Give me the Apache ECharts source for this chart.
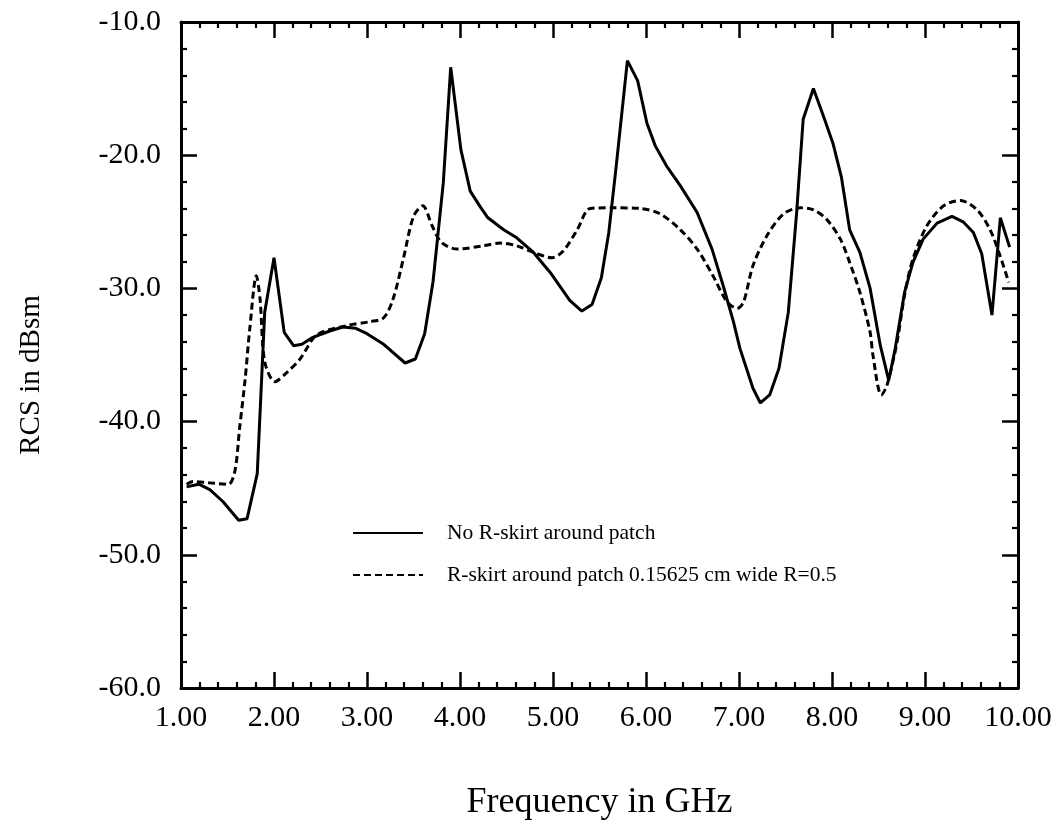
<!DOCTYPE html>
<html>
<head>
<meta charset="utf-8">
<script src="https://cdn.jsdelivr.net/npm/echarts@6/dist/echarts.min.js"></script>
<style>
html,body{margin:0;padding:0;background:#fff;}
#chart{width:1061px;height:826px;}
</style>
</head>
<body>
<div id="chart"></div>
<script>
var xTickLabels = ['1.00','2.00','3.00','4.00','5.00','6.00','7.00','8.00','9.00','10.00'];
var yTickLabels = ['-60.0','-50.0','-40.0','-30.0','-20.0','-10.0'];

var solidName = 'No R-skirt around patch';
var dashName = 'R-skirt around patch 0.15625 cm wide R=0.5';

var solidX = [1.06,1.19,1.31,1.45,1.62,1.71,1.82,1.90,2.00,2.11,2.21,2.30,2.41,2.60,2.74,2.88,3.00,3.17,3.41,3.52,3.62,3.71,3.82,3.90,4.01,4.11,4.22,4.30,4.47,4.61,4.79,4.97,5.18,5.31,5.42,5.52,5.60,5.68,5.80,5.91,6.01,6.10,6.22,6.37,6.55,6.71,6.83,6.94,7.01,7.15,7.23,7.33,7.43,7.53,7.62,7.69,7.80,7.92,8.01,8.10,8.19,8.30,8.41,8.52,8.61,8.68,8.78,8.87,8.98,9.13,9.29,9.41,9.52,9.61,9.72,9.81,9.91];
var solidY = [-44.9,-44.7,-45.1,-46.0,-47.4,-47.3,-43.9,-31.8,-27.7,-33.3,-34.3,-34.2,-33.7,-33.2,-32.9,-33.0,-33.4,-34.15,-35.6,-35.3,-33.4,-29.5,-22.1,-13.4,-19.6,-22.7,-23.9,-24.7,-25.6,-26.2,-27.3,-28.8,-30.9,-31.7,-31.2,-29.2,-25.8,-20.8,-12.9,-14.4,-17.6,-19.3,-20.8,-22.3,-24.3,-27.05,-29.8,-32.5,-34.5,-37.5,-38.6,-38.0,-36.0,-31.8,-24.3,-17.3,-15.0,-17.3,-19.1,-21.6,-25.6,-27.3,-30.0,-34.3,-36.9,-34.5,-30.3,-28.05,-26.3,-25.1,-24.6,-25.0,-25.8,-27.4,-32.0,-24.7,-26.9];

var dashX = [1.06,1.13,1.30,1.51,1.58,1.63,1.69,1.74,1.81,1.85,1.90,2.01,2.14,2.28,2.46,2.78,3.03,3.18,3.28,3.39,3.50,3.60,3.70,3.80,3.97,4.25,4.43,4.61,4.79,4.99,5.11,5.26,5.40,5.65,5.94,6.15,6.37,6.55,6.72,6.87,6.98,7.05,7.15,7.30,7.48,7.66,7.80,7.94,8.09,8.19,8.30,8.41,8.44,8.53,8.59,8.70,8.78,8.87,9.02,9.20,9.38,9.56,9.70,9.81,9.90];
var dashY = [-44.7,-44.5,-44.6,-44.7,-43.7,-40.5,-36.8,-33.0,-29.05,-30.8,-35.5,-37.0,-36.3,-35.3,-33.5,-32.8,-32.5,-32.2,-30.8,-27.8,-24.6,-23.8,-25.3,-26.55,-27.05,-26.8,-26.6,-26.8,-27.3,-27.7,-27.2,-25.6,-24.0,-23.95,-24.0,-24.4,-25.6,-27.05,-29.05,-31.0,-31.5,-31.0,-28.3,-26.05,-24.4,-23.95,-24.1,-24.8,-26.3,-28.05,-30.3,-33.3,-35.0,-38.0,-37.3,-34.0,-30.5,-27.8,-25.3,-23.8,-23.4,-24.1,-25.6,-27.6,-29.55];

function pairs(xs, ys){ return xs.map(function(x,i){ return [x, ys[i]]; }); }

var FONT = '"Liberation Serif", "DejaVu Serif", serif';
var axisLine = {show:true, onZero:false, lineStyle:{color:'#000', width:3}};
var axisTick = {show:true, inside:true, length:16, lineStyle:{color:'#000', width:2.5}};
var minorTick = {show:true, splitNumber:5, length:6, lineStyle:{color:'#000', width:2.2}};

var chart = echarts.init(document.getElementById('chart'), null, {renderer:'canvas'});
chart.setOption({
  animation:false,
  backgroundColor:'#fff',
  grid:{left:181, top:22, right:43, bottom:135, containLabel:false},
  legend:{
    orient:'vertical', left:347, top:517, itemWidth:70, itemHeight:22, itemGap:20,
    selectedMode:false,
    itemStyle:{color:'rgba(0,0,0,0)', borderColor:'rgba(0,0,0,0)', borderWidth:0, opacity:0},
    textStyle:{fontFamily:FONT, fontSize:21.5, color:'#000', lineHeight:22, padding:[0,0,0,19]},
    data:[solidName, dashName]
  },
  xAxis:[{
    type:'value', position:'bottom', min:1, max:10, interval:1,
    axisLine:axisLine, axisTick:axisTick, minorTick:minorTick,
    splitLine:{show:false}, minorSplitLine:{show:false},
    axisLabel:{show:true, margin:15, fontFamily:FONT, fontSize:30, color:'#000',
      formatter:function(v){ return xTickLabels[Math.round(v-1)]; }},
    name:'Frequency in GHz', nameLocation:'middle', nameGap:97,
    nameTextStyle:{fontFamily:FONT, fontSize:36, color:'#000'}
  },{
    type:'value', position:'top', min:1, max:10, interval:1,
    axisLine:axisLine, axisTick:axisTick, minorTick:minorTick,
    splitLine:{show:false}, axisLabel:{show:false}
  }],
  yAxis:[{
    type:'value', position:'left', min:-60, max:-10, interval:10,
    axisLine:axisLine, axisTick:axisTick, minorTick:minorTick,
    splitLine:{show:false}, minorSplitLine:{show:false},
    axisLabel:{show:true, margin:20, fontFamily:FONT, fontSize:30, color:'#000',
      formatter:function(v){ return yTickLabels[Math.round((v+60)/10)]; }},
    name:'RCS in dBsm', nameLocation:'middle', nameGap:135, nameRotate:90,
    nameTextStyle:{fontFamily:FONT, fontSize:29, color:'#000', padding:[0,40,0,0]}
  },{
    type:'value', position:'right', min:-60, max:-10, interval:10,
    axisLine:axisLine, axisTick:axisTick, minorTick:minorTick,
    splitLine:{show:false}, axisLabel:{show:false}
  }],
  series:[{
    name:solidName, type:'line', xAxisIndex:0, yAxisIndex:0,
    data:pairs(solidX, solidY), symbol:'none', smooth:false,
    lineStyle:{color:'#000', width:3, type:'solid'}, itemStyle:{color:'#000'}
  },{
    name:dashName, type:'line', xAxisIndex:0, yAxisIndex:0,
    data:pairs(dashX, dashY), symbol:'none', smooth:0.3,
    lineStyle:{color:'#000', width:3, type:[7,4]}, itemStyle:{color:'#000'}
  }]
});
</script>
</body>
</html>
